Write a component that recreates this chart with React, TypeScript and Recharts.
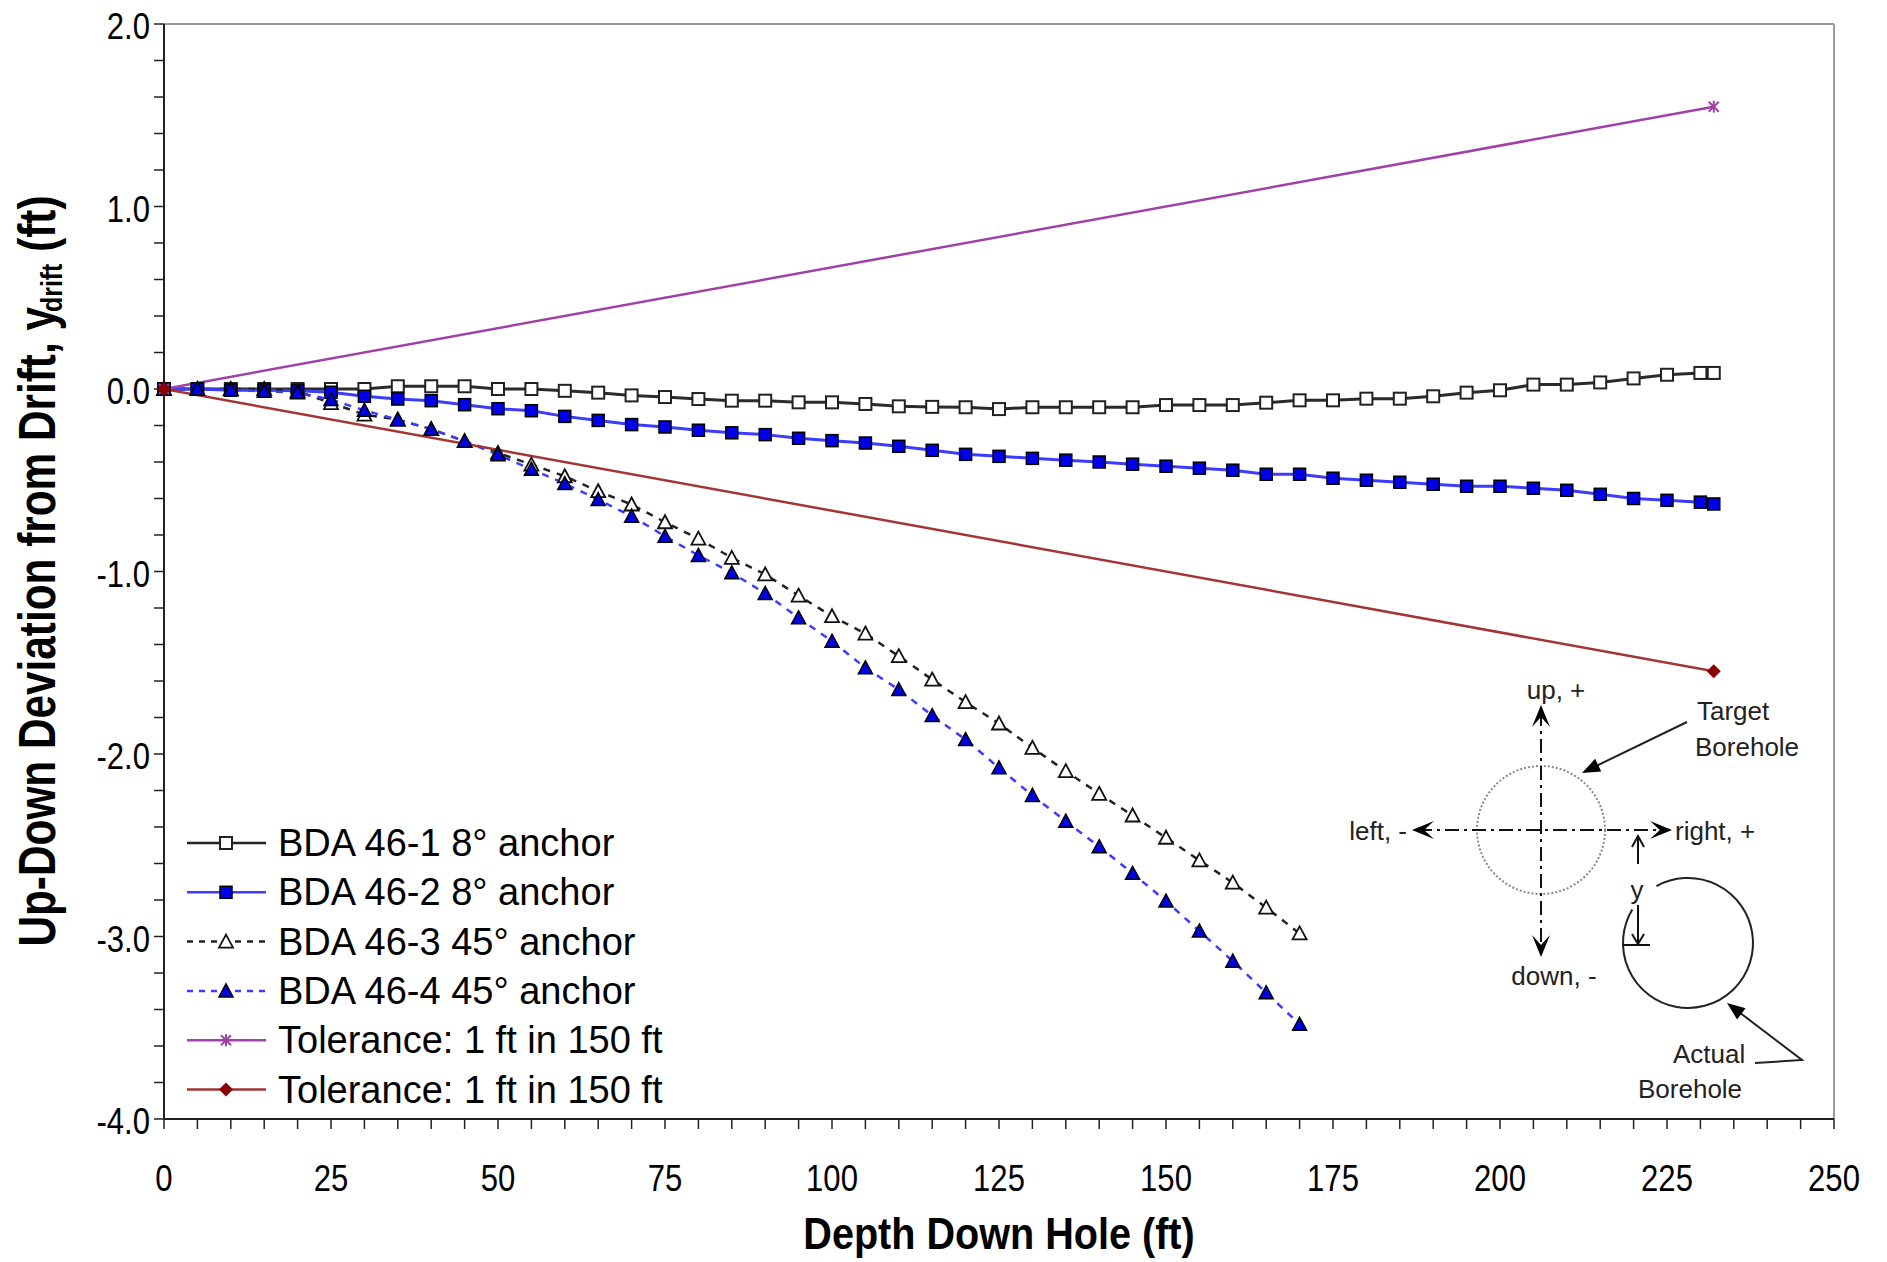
import { LineChart, Line, XAxis, YAxis, ReferenceLine, Customized } from 'recharts'

// depths (ft) for the long holes and the 45° holes
const depthsLong = [
  0, 5, 10, 15, 20, 25, 30, 35, 40, 45, 50, 55, 60, 65, 70, 75, 80, 85, 90, 95, 100, 105, 110, 115,
  120, 125, 130, 135, 140, 145, 150, 155, 160, 165, 170, 175, 180, 185, 190, 195, 200, 205, 210,
  215, 220, 225, 230, 232,
]
const depthsShort = [
  0, 5, 10, 15, 20, 25, 30, 35, 40, 45, 50, 55, 60, 65, 70, 75, 80, 85, 90, 95, 100, 105, 110, 115,
  120, 125, 130, 135, 140, 145, 150, 155, 160, 165, 170,
]

const bda461 = [
  0, 0, 0, 0, 0, 0, 0, 0.015, 0.015, 0.015, 0, 0, -0.01, -0.02, -0.035, -0.044, -0.055, -0.064, -0.064,
  -0.073, -0.073, -0.082, -0.095, -0.098, -0.1, -0.11, -0.1, -0.1, -0.1, -0.1, -0.088, -0.088, -0.088,
  -0.075, -0.062, -0.062, -0.053, -0.053, -0.04, -0.02, -0.007, 0.024, 0.024, 0.036, 0.058, 0.078,
  0.088, 0.088,
]
const bda462 = [
  0, 0, -0.007, -0.007, -0.01, -0.018, -0.04, -0.055, -0.064, -0.086, -0.108, -0.119, -0.15, -0.172,
  -0.195, -0.208, -0.226, -0.24, -0.25, -0.27, -0.283, -0.296, -0.314, -0.336, -0.358, -0.369, -0.38,
  -0.39, -0.4, -0.412, -0.423, -0.434, -0.445, -0.467, -0.467, -0.489, -0.5, -0.511, -0.522, -0.533,
  -0.533, -0.544, -0.555, -0.577, -0.6, -0.61, -0.62, -0.63,
]
const bda463 = [
  0, 0, 0, 0, -0.013, -0.077, -0.14, -0.168, -0.22, -0.286, -0.35, -0.414, -0.478, -0.56, -0.633,
  -0.73, -0.82, -0.925, -1.016, -1.132, -1.245, -1.34, -1.464, -1.592, -1.716, -1.833, -1.966, -2.094,
  -2.218, -2.337, -2.459, -2.583, -2.705, -2.842, -2.983,
]
const bda464 = [
  0, 0, -0.004, -0.013, -0.02, -0.058, -0.117, -0.168, -0.22, -0.286, -0.36, -0.44, -0.518, -0.606,
  -0.697, -0.807, -0.912, -1.007, -1.12, -1.254, -1.382, -1.528, -1.647, -1.789, -1.921, -2.076,
  -2.227, -2.368, -2.508, -2.654, -2.806, -2.97, -3.135, -3.308, -3.481,
]
const tolDepths = [0, 232]
const tolUp = [0, 1.547]
const tolDown = [0, -1.547]

const xTicks = Array.from({ length: 51 }, (_, i) => i * 5)
const yTicks = Array.from({ length: 31 }, (_, i) => Math.round((-4 + i * 0.2) * 10) / 10)
const xLabels = [0, 25, 50, 75, 100, 125, 150, 175, 200, 225, 250]
const yLabels = [-4, -3, -2, -1, 0, 1, 2]

const legendNames = [
  'BDA 46-1 8° anchor',
  'BDA 46-2 8° anchor',
  'BDA 46-3 45° anchor',
  'BDA 46-4 45° anchor',
  'Tolerance: 1 ft in 150 ft',
  'Tolerance: 1 ft in 150 ft',
]

const toPts = (xs: number[], ys: number[]) => xs.map((x, i) => ({ x, y: ys[i] }))

const BLUE_LINE = '#3c3cff'
const BLUE_FILL = '#0000e8'
const PURPLE = '#a040a8'
const DARK_RED = '#a33535'
const FONT = '"Liberation Sans", Arial, sans-serif'

// marker shapes
const mark = (kind: string, cx: number, cy: number, key?: string) => {
  switch (kind) {
    case 'openSquare':
      return <rect key={key} x={cx - 6} y={cy - 6} width={12} height={12} fill="#fff" stroke="#222" strokeWidth={2} />
    case 'fillSquare':
      return <rect key={key} x={cx - 6} y={cy - 6} width={12} height={12} fill={BLUE_FILL} stroke="#000" strokeWidth={1.5} />
    case 'openTri':
      return <polygon key={key} points={`${cx},${cy - 7} ${cx + 7},${cy + 6} ${cx - 7},${cy + 6}`} fill="#fff" stroke="#111" strokeWidth={1.8} />
    case 'fillTri':
      return <polygon key={key} points={`${cx},${cy - 7} ${cx + 7},${cy + 6} ${cx - 7},${cy + 6}`} fill={BLUE_FILL} stroke="#000" strokeWidth={1.5} />
    case 'star':
      return (
        <g key={key} stroke={PURPLE} strokeWidth={2}>
          <line x1={cx - 5} y1={cy - 5} x2={cx + 5} y2={cy + 5} />
          <line x1={cx - 5} y1={cy + 5} x2={cx + 5} y2={cy - 5} />
          <line x1={cx} y1={cy - 6} x2={cx} y2={cy + 6} />
        </g>
      )
    default:
      return <polygon key={key} points={`${cx},${cy - 7} ${cx + 7},${cy} ${cx},${cy + 7} ${cx - 7},${cy}`} fill="#8b0000" />
  }
}

const dotOf = (kind: string, id: string) => (p: any) => mark(kind, p.cx, p.cy, `${id}-${p.index}`)

const legendStyles = [
  { stroke: '#222', dash: undefined, kind: 'openSquare' },
  { stroke: BLUE_LINE, dash: undefined, kind: 'fillSquare' },
  { stroke: '#222', dash: '6 6', kind: 'openTri' },
  { stroke: BLUE_LINE, dash: '6 6', kind: 'fillTri' },
  { stroke: PURPLE, dash: undefined, kind: 'star' },
  { stroke: DARK_RED, dash: undefined, kind: 'diamond' },
]

const YTick = ({ x, y, payload }: any) => {
  if (!yLabels.some((v) => Math.abs(v - payload.value) < 1e-6)) return <g />
  return (
    <text transform={`translate(${x},${y + 15}) scale(0.84,1)`} textAnchor="end" fontSize={37} fill="#000" fontFamily={FONT}>
      {payload.value.toFixed(1)}
    </text>
  )
}

const XTick = ({ x, y, payload }: any) => {
  if (!xLabels.includes(payload.value)) return <g />
  return (
    <text transform={`translate(${x},${y + 62}) scale(0.84,1)`} textAnchor="middle" fontSize={37} fill="#000" fontFamily={FONT}>
      {payload.value}
    </text>
  )
}

// barbed arrow head used in the inset sketch
const barb = (tx: number, ty: number, dx: number, dy: number, L = 22, W = 9) => {
  const nx = -dy
  const ny = dx
  return `${tx},${ty} ${tx - dx * L + nx * W},${ty - dy * L + ny * W} ${tx - dx * L * 0.55},${ty - dy * L * 0.55} ${tx - dx * L - nx * W},${ty - dy * L - ny * W}`
}
const head = (tx: number, ty: number, fx: number, fy: number, L = 18, W = 7) => {
  const len = Math.hypot(tx - fx, ty - fy)
  const dx = (tx - fx) / len
  const dy = (ty - fy) / len
  return `${tx},${ty} ${tx - dx * L - dy * W},${ty - dy * L + dx * W} ${tx - dx * L + dy * W},${ty - dy * L - dx * W}`
}

const Decorations = () => {
  const a0 = (-119 * Math.PI) / 180
  const a1 = (-149 * Math.PI) / 180
  const ccx = 1688
  const ccy = 943
  const r = 65
  return (
    <g fontFamily={FONT}>
      {/* axis titles */}
      <text transform="translate(999,1249) scale(0.88,1)" textAnchor="middle" fontSize={45} fontWeight="bold" fill="#000">
        Depth Down Hole (ft)
      </text>
      <text transform="translate(55,571) rotate(-90) scale(0.83,1)" textAnchor="middle" fontSize={51} fontWeight="bold" fill="#000">
        Up-Down Deviation from Drift, y
        <tspan fontSize={30} dx={-6} dy={7}>drift</tspan>
        <tspan dy={-7}> (ft)</tspan>
      </text>

      {/* legend */}
      {legendNames.map((name, i) => {
        const cy = 843 + i * 49.3
        const s = legendStyles[i]
        return (
          <g key={`lg-${i}`}>
            <line x1={187} x2={266} y1={cy} y2={cy} stroke={s.stroke} strokeWidth={2.5} strokeDasharray={s.dash} />
            {mark(s.kind, 226, cy)}
            <text x={278} y={cy + 13} fontSize={38} fill="#000">
              {name}
            </text>
          </g>
        )
      })}

      {/* inset sketch */}
      <g fill="#222" fontSize={26}>
        <circle cx={1541} cy={830} r={64} fill="none" stroke="#888" strokeWidth={2} strokeDasharray="2 2" />
        <line x1={1541} y1={712} x2={1541} y2={952} stroke="#111" strokeWidth={2} strokeDasharray="14 5 3 5" />
        <line x1={1418} y1={830} x2={1666} y2={830} stroke="#111" strokeWidth={2} strokeDasharray="14 5 3 5" />
        <polygon points={barb(1541, 705, 0, -1)} fill="#000" />
        <polygon points={barb(1541, 957, 0, 1)} fill="#000" />
        <polygon points={barb(1412, 830, -1, 0)} fill="#000" />
        <polygon points={barb(1672, 830, 1, 0)} fill="#000" />
        <text x={1556} y={699} textAnchor="middle">up, +</text>
        <text x={1554} y={985} textAnchor="middle">down, -</text>
        <text x={1407} y={840} textAnchor="end">left, -</text>
        <text x={1675} y={840}>right, +</text>
        <text x={1697} y={720}>Target</text>
        <text x={1695} y={756}>Borehole</text>
        <line x1={1687} y1={722} x2={1592} y2={768} stroke="#222" strokeWidth={2} />
        <polygon points={head(1582, 773, 1687, 722)} fill="#000" />

        <path
          d={`M ${ccx + r * Math.cos(a0)} ${ccy + r * Math.sin(a0)} A ${r} ${r} 0 1 1 ${ccx + r * Math.cos(a1)} ${ccy + r * Math.sin(a1)}`}
          fill="none"
          stroke="#222"
          strokeWidth={2}
        />
        <line x1={1638} y1={838} x2={1638} y2={864} stroke="#111" strokeWidth={2} />
        <polyline points="1632,847 1638,836 1644,847" fill="none" stroke="#111" strokeWidth={2} />
        <text x={1637} y={899} textAnchor="middle">y</text>
        <line x1={1638} y1={905} x2={1638} y2={944} stroke="#111" strokeWidth={2} />
        <polyline points="1632,934 1638,944 1644,934" fill="none" stroke="#111" strokeWidth={2} />
        <line x1={1623} y1={945} x2={1650} y2={945} stroke="#111" strokeWidth={2} />
        <text x={1673} y={1063}>Actual</text>
        <text x={1638} y={1098}>Borehole</text>
        <polyline points="1755,1063 1802,1060 1735,1009" fill="none" stroke="#222" strokeWidth={2} />
        <polygon points={head(1727, 1003, 1802, 1060)} fill="#000" />
      </g>
    </g>
  )
}

export default function App() {
  return (
    <div style={{ width: 1887, height: 1262, background: '#fff' }}>
      <style>{'body{margin:0}'}</style>
      <LineChart width={1887} height={1262} margin={{ top: 24, right: 53, bottom: 0, left: 0 }} style={{ fontFamily: FONT }}>
        <XAxis
          type="number"
          dataKey="x"
          domain={[0, 250]}
          ticks={xTicks}
          interval={0}
          height={143}
          tickSize={10}
          tickMargin={0}
          tick={<XTick />}
          axisLine={{ stroke: '#222', strokeWidth: 2 }}
          tickLine={{ stroke: '#222', strokeWidth: 1.5 }}
        />
        <YAxis
          type="number"
          dataKey="y"
          domain={[-4, 2]}
          ticks={yTicks}
          interval={0}
          width={164}
          tickSize={10}
          tickMargin={4}
          tick={<YTick />}
          axisLine={{ stroke: '#222', strokeWidth: 2 }}
          tickLine={{ stroke: '#222', strokeWidth: 1.5 }}
        />
        <ReferenceLine y={2} stroke="#999" strokeWidth={2} />
        <ReferenceLine x={250} stroke="#999" strokeWidth={2} />

        <Line data={toPts(depthsLong, bda461)} dataKey="y" stroke="#2b2b2b" strokeWidth={3} dot={dotOf('openSquare', 'a')} activeDot={false} isAnimationActive={false} />
        <Line data={toPts(depthsLong, bda462)} dataKey="y" stroke={BLUE_LINE} strokeWidth={3} dot={dotOf('fillSquare', 'b')} activeDot={false} isAnimationActive={false} />
        <Line data={toPts(depthsShort, bda463)} dataKey="y" stroke="#222" strokeWidth={2.5} strokeDasharray="7 7" dot={dotOf('openTri', 'c')} activeDot={false} isAnimationActive={false} />
        <Line data={toPts(depthsShort, bda464)} dataKey="y" stroke={BLUE_LINE} strokeWidth={2.5} strokeDasharray="7 7" dot={dotOf('fillTri', 'd')} activeDot={false} isAnimationActive={false} />
        <Line data={toPts(tolDepths, tolUp)} dataKey="y" stroke={PURPLE} strokeWidth={2.5} dot={dotOf('star', 'e')} activeDot={false} isAnimationActive={false} />
        <Line data={toPts(tolDepths, tolDown)} dataKey="y" stroke={DARK_RED} strokeWidth={2.5} dot={dotOf('diamond', 'f')} activeDot={false} isAnimationActive={false} />

        <Customized component={Decorations} />
      </LineChart>
    </div>
  )
}
